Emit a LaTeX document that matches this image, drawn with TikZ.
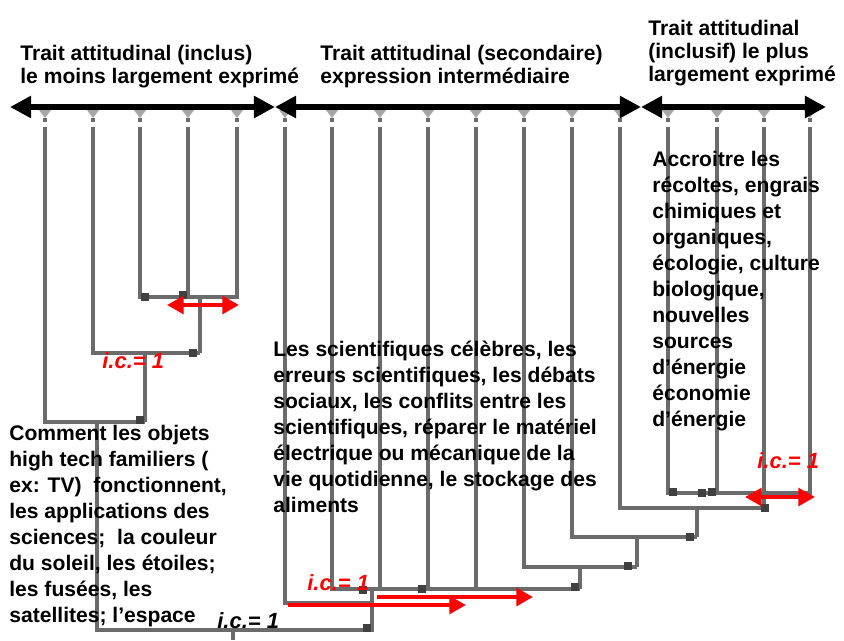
\documentclass[tikz,border=0pt]{standalone}
\usepackage{fontspec}
\setmainfont{Liberation Sans}
\usetikzlibrary{arrows.meta}

\begin{document}
\begin{tikzpicture}[x=0.02cm,y=-0.02cm,
  branch/.style={draw=black!58,line width=1.8pt},
  joint/.style={fill=black!75},
  tick/.style={fill=black!35},
  traitarrow/.style={draw=black,line width=3pt,{Triangle[length=12pt,width=12pt]}-{Triangle[length=12pt,width=12pt]}},
  icarrow/.style={draw=red,line width=2.8pt,-{Triangle[length=9.5pt,width=10pt]}},
  icboth/.style={icarrow,{Triangle[length=9.5pt,width=10pt]}-{Triangle[length=9.5pt,width=10pt]}},
  ictext/.style={anchor=base west,inner sep=0,text=red,font=\fontsize{12.5}{14}\selectfont\bfseries\itshape},
  header/.style={anchor=north west,align=left,inner sep=0,font=\fontsize{12}{13.3}\selectfont\bfseries},
  bodytext/.style={anchor=north west,align=left,inner sep=0,font=\fontsize{12}{14.8}\selectfont\bfseries}]
 \useasboundingbox (0,0) rectangle (844,640);
 \foreach \n/\x in {1/45,2/93,3/140,4/188,5/237,6/285,7/332,8/380,9/428,10/476,11/524,12/572,13/620,14/668,15/717,16/764,17/810} {
  \coordinate (l\n) at (\x,127);
  \fill[tick] (\x-6,110) -- (\x+6,110) -- (\x,118) -- cycle;
  \draw[branch] (\x,118) -- (\x,122);
 }
 \draw[branch] (l3) |- (237,297) -- (l5);
 \draw[branch] (l4) -- (188,297);
 \draw[branch] (200,297) -- (200,353);
 \draw[branch] (l2) |- (200,353);
 \draw[branch] (145,353) -- (145,422);
 \draw[branch] (l1) |- (145,422);
 \draw[branch] (97,422) -- (97,630) -| (372,589);
 \draw[branch] (233,630) -- (233,640);
 \draw[branch] (l14) |- (810,493) -- (l17);
 \draw[branch] (l15) -- (717,493);
 \draw[branch] (l13) |- (764,508) -- (l16);
 \draw[branch] (697,508) -- (697,537);
 \draw[branch] (l12) |- (697,537);
 \draw[branch] (637,537) -- (637,567);
 \draw[branch] (l11) |- (637,567);
 \draw[branch] (580,567) -- (580,589);
 \draw[branch] (l7) |- (580,589);
 \foreach \n in {8,9,10}
  \draw[branch] (l\n) -- (l\n |- 0,589);
 \draw[branch] (l6) |- (372,603);
 \foreach \x/\y in {145/297,183/295,193/353,140/420,367/628,673/492,702/493,712/492,765/508,690/537,628/566,575/587,422/589,363/590}
  \fill[joint] (\x-4,\y-4) rectangle (\x+4,\y+4);
 \coordinate (ra) at (167,305);
 \coordinate (rb) at (239,305);
 \coordinate (rc) at (745,497);
 \coordinate (rd) at (815,497);
 \coordinate (re) at (288,605);
 \coordinate (rf) at (466,605);
 \coordinate (rg) at (377,597);
 \coordinate (rh) at (533,597);
 \draw[icboth] (ra) -- (rb);
 \draw[icboth] (rc) -- (rd);
 \draw[icarrow] (re) -- (rf);
 \draw[icarrow] (rg) -- (rh);
 \node[ictext] (ic1) at (102,368) {i.c.= 1};
 \node[ictext] (ic2) at (757,468) {i.c.= 1};
 \node[ictext] (ic3) at (307,590) {i.c.= 1};
 \node[ictext,text=black] (ic4) at (217,628) {i.c.= 1};
 \node[header] (inclus) at (20,44.5) {Trait attitudinal (inclus)\\le moins largement exprimé};
 \node[header] (secondaire) at (320,44.5) {Trait attitudinal (secondaire)\\expression intermédiaire};
 \node[header] (inclusif) at (648,19.5) {Trait attitudinal\\(inclusif) le plus\\largement exprimé};
 \node[bodytext] (objets) at (9,424.5) {Comment les objets\\high tech familiers (\\ex: TV)\ \ fonctionnent,\\les applications des\\sciences;\ \ la couleur\\du soleil, les étoiles;\\les fusées, les\\satellites; l’espace};
 \node[bodytext] (savants) at (273,341) {Les scientifiques célèbres, les\\erreurs scientifiques, les débats\\sociaux, les conflits entre les\\scientifiques, réparer le matériel\\électrique ou mécanique de la\\vie quotidienne, le stockage des\\aliments};
 \node[bodytext] (recoltes) at (652,151) {Accroitre les\\récoltes, engrais\\chimiques et\\organiques,\\écologie, culture\\biologique,\\nouvelles\\sources\\d’énergie\\économie\\d’énergie};
 \coordinate (t0) at (10,107);
 \coordinate (t1) at (275,107);
 \coordinate (t2) at (641,107);
 \coordinate (t3) at (826,107);
 \draw[traitarrow] (t0) -- (t1);
 \draw[traitarrow] (t1) -- (t2);
 \draw[traitarrow] (t2) -- (t3);
\end{tikzpicture}
\end{document}
